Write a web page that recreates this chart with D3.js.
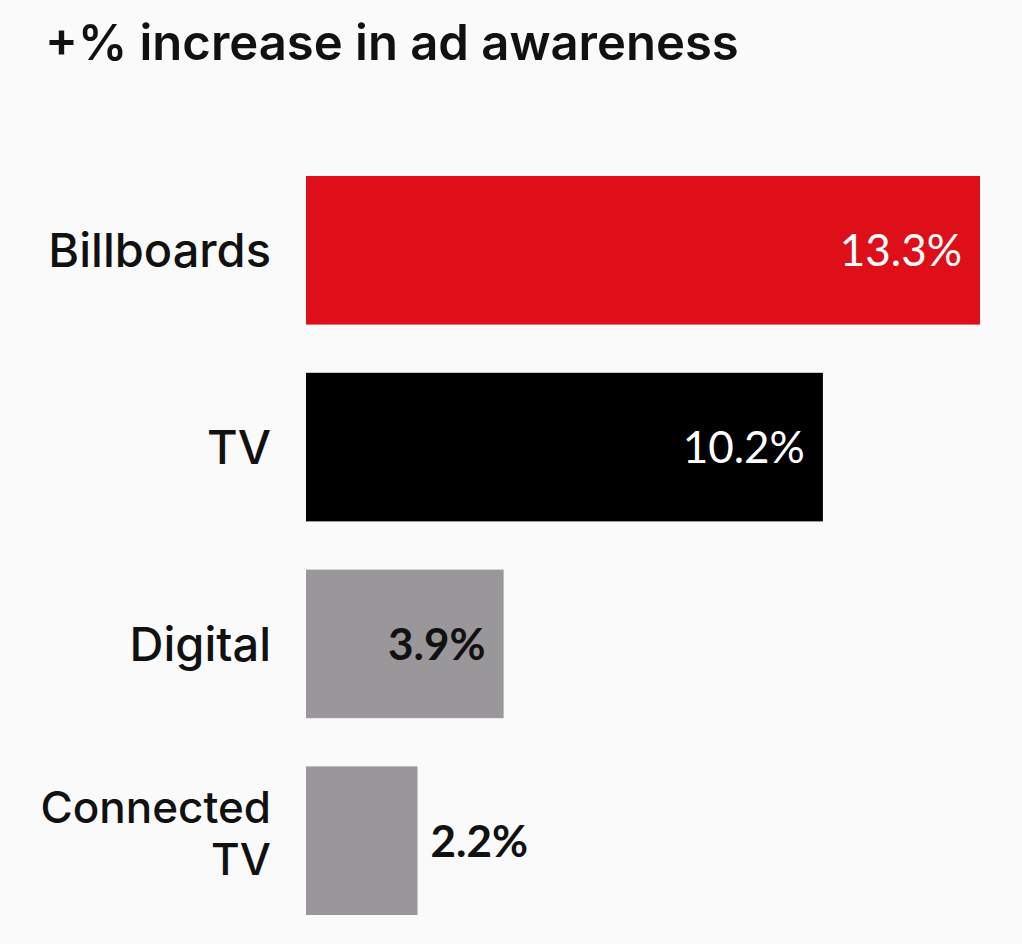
<!DOCTYPE html>
<html>
<head>
<meta charset="utf-8">
<style>
  html, body { margin: 0; padding: 0; background: #fafafa; }
  svg { display: block; }
</style>
</head>
<body>
<script src="https://d3js.org/d3.v7.min.js"></script>
<script>
  // chart data
  const channels = ['Billboards', 'TV', 'Digital', 'Connected TV']
  const lift = [13.3, 10.2, 3.9, 2.2]
  const barColors = ['#df0f1a', '#000000', '#999799', '#999799']
  const labelColors = ['#ffffff', '#ffffff', '#111111', '#111111']
  const title = '+% increase in ad awareness'

  const width = 1022
  const height = 944
  const margins = { top: 176, right: 42, bottom: 29, left: 306 }

  const data = channels.map((c, i) => ({
    channel: c,
    value: lift[i],
    fill: barColors[i],
    textFill: labelColors[i]
  }))

  const svg = d3.select('body')
    .append('svg')
    .attr('width', width)
    .attr('height', height)

  svg.append('rect')
    .attr('width', width)
    .attr('height', height)
    .attr('fill', '#fafafa')

  // title
  svg.append('text')
    .attr('x', 45)
    .attr('y', 60)
    .attr('font-family', 'Inter, sans-serif')
    .attr('font-weight', 600)
    .attr('font-size', '49px')
    .attr('fill', '#111')
    .text(title)

  // x scale: linear from zero
  const x = d3.scaleLinear()
    .domain([0, d3.max(lift)])
    .range([margins.left, width - margins.right])

  // y scale
  const y = d3.scaleBand()
    .domain(channels)
    .range([margins.top, height - margins.bottom])
    .paddingInner(0.245)
    .paddingOuter(0)

  // bars
  svg.selectAll('rect.bar')
    .data(data)
    .enter().append('rect')
    .attr('class', 'bar')
    .attr('x', x(0))
    .attr('y', d => y(d.channel))
    .attr('width', d => x(d.value) - x(0))
    .attr('height', y.bandwidth())
    .attr('fill', d => d.fill)

  // category labels (left axis, no line / ticks)
  const yAxis = d3.axisLeft(y).tickSize(0).tickPadding(35)
  const axisG = svg.append('g')
    .attr('transform', `translate(${x(0)},0)`)
    .call(yAxis)
  axisG.select('.domain').remove()
  axisG.selectAll('.tick text')
    .attr('font-family', 'Inter, sans-serif')
    .attr('font-weight', 500)
    .attr('font-size', d => d === 'Connected TV' ? '44px' : '47px')
    .attr('fill', '#111')
    .attr('dy', '0.36em')
    .each(function (d) {
      const words = d.split(' ')
      if (words.length > 1) {
        const t = d3.select(this).text(null).attr('dy', null)
        words.forEach((w, i) => {
          t.append('tspan')
            .attr('x', -35)
            .attr('dy', i === 0 ? '-0.41em' : '1.18em')
            .text(w)
        })
      }
    })

  // value labels
  const valueFont = 'Lato, "Open Sans", sans-serif'
  svg.selectAll('text.value')
    .data(data)
    .enter().append('text')
    .attr('class', 'value')
    .attr('font-family', valueFont)
    .attr('font-size', '44px')
    .attr('font-weight', d => d.textFill === '#ffffff' ? 400 : 700)
    .attr('y', d => y(d.channel) + y.bandwidth() / 2)
    .attr('dy', '0.36em')
    .text(d => d.value.toFixed(1) + '%')
    .each(function (d) {
      const el = d3.select(this)
      const w = this.getComputedTextLength()
      const barW = x(d.value) - x(0)
      if (barW > w + 40) {
        el.attr('x', x(d.value) - 18)
          .attr('text-anchor', 'end')
          .attr('fill', d.textFill)
      } else {
        el.attr('x', x(d.value) + 13)
          .attr('text-anchor', 'start')
          .attr('fill', '#111')
      }
    })
</script>
</body>
</html>
